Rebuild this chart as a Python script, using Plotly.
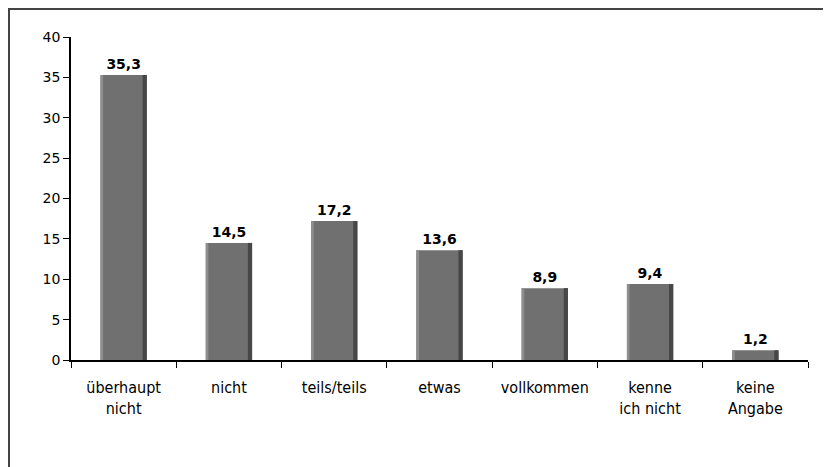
import plotly.graph_objects as go

categories = ["überhaupt<br>nicht", "nicht", "teils/teils", "etwas", "vollkommen", "kenne<br>ich nicht", "keine<br>Angabe"]
values = [35.3, 14.5, 17.2, 13.6, 8.9, 9.4, 1.2]
y_ticks = [0, 5, 10, 15, 20, 25, 30, 35, 40]

# page body has an 8px margin, so the figure is sized to fill the rest of the window
W, H = 823, 459
ML, MR, MT, MB = 63, 23, 29, 107
pw, ph = W - ML - MR, H - MT - MB

BW = 0.44

fig = go.Figure()
fig.add_trace(go.Bar(
    x=categories, y=values, width=BW, marker=dict(color="#707070", line=dict(width=0)),
    texttemplate="%{y:.1f}", textposition="outside",
    textfont=dict(family="DejaVu Sans", size=14, color="#000000", weight="bold"),
    cliponaxis=False, hoverinfo="skip"))
fig.add_trace(go.Bar(
    x=categories, y=values, width=0.04, offset=BW / 2 - 0.04,
    marker=dict(color="#474747", line=dict(width=0)), hoverinfo="skip"))
fig.add_trace(go.Bar(
    x=categories, y=values, width=0.025, offset=-BW / 2,
    marker=dict(color="#8e8e8e", line=dict(width=0)), hoverinfo="skip"))

fig.update_layout(
    width=W, height=H, margin=dict(l=ML, r=MR, t=MT, b=MB),
    barmode="overlay", showlegend=False, separators=",.",
    paper_bgcolor="white", plot_bgcolor="white",
    xaxis=dict(type="category", showline=True, linecolor="#000000", linewidth=1.5,
               ticks="outside", tickson="boundaries", ticklen=6, tickcolor="#000000",
               ticklabelstandoff=12,
               tickfont=dict(family="DejaVu Sans Condensed, Liberation Sans", size=16, color="#000000"),
               showgrid=False, zeroline=False),
    yaxis=dict(range=[0, 40], tickvals=y_ticks, showline=True, linecolor="#000000", linewidth=1.5,
               ticks="outside", ticklen=6, tickcolor="#000000",
               tickfont=dict(family="DejaVu Sans", size=14, color="#000000"),
               showgrid=False, zeroline=False),
    shapes=[
        dict(type="line", xref="paper", yref="paper",
             x0=-ML / pw, x1=(W - ML) / pw,
             y0=(H - MB - 1) / ph, y1=(H - MB - 1) / ph,
             line=dict(color="#444444", width=2)),
        dict(type="line", xref="paper", yref="paper",
             x0=(1 - ML) / pw, x1=(1 - ML) / pw,
             y0=(H - MB) / ph, y1=-MB / ph,
             line=dict(color="#444444", width=2)),
    ],
)

fig.write_html("out.html")
